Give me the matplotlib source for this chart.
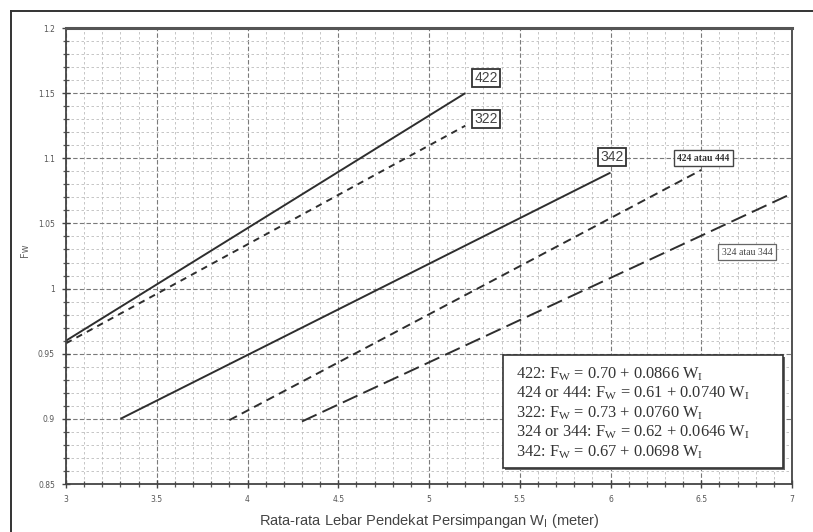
import matplotlib
matplotlib.use("Agg")
import matplotlib.pyplot as plt
from matplotlib.ticker import MultipleLocator, FixedLocator, FixedFormatter
from matplotlib.lines import Line2D
from matplotlib.patches import Rectangle

plt.rcParams['mathtext.fontset'] = 'custom'
plt.rcParams['mathtext.rm'] = 'Liberation Serif'
plt.rcParams['mathtext.it'] = 'Liberation Serif:italic'
plt.rcParams['mathtext.default'] = 'rm'

# ---- data ----
series_names = ["422", "322", "342", "424 atau 444", "324 atau 344"]
x_422 = [3.0, 5.2]
y_422 = [0.960, 1.150]
x_322 = [3.0, 5.2]
y_322 = [0.958, 1.125]
x_342 = [3.3, 6.0]
y_342 = [0.900, 1.089]
x_424 = [3.9, 6.5]
y_424 = [0.899, 1.091]
x_324 = [4.3, 7.0]
y_324 = [0.898, 1.073]

x_ticks = [3, 3.5, 4, 4.5, 5, 5.5, 6, 6.5, 7]
x_ticklabels = ["3", "3.5", "4", "4.5", "5", "5.5", "6", "6.5", "7"]
y_ticks = [0.85, 0.9, 0.95, 1.0, 1.05, 1.1, 1.15, 1.2]
y_ticklabels = ["0.85", "0.9", "0.95", "1", "1.05", "1.1", "1.15", "1.2"]

equations = [
    r"422: F$_{\mathrm{W}}$ = 0.70 + 0.0866 W$_{\mathrm{I}}$",
    r"424 or 444: F$_{\mathrm{W}}$ = 0.61 + 0.0740 W$_{\mathrm{I}}$",
    r"322: F$_{\mathrm{W}}$ = 0.73 + 0.0760 W$_{\mathrm{I}}$",
    r"324 or 344: F$_{\mathrm{W}}$ = 0.62 + 0.0646 W$_{\mathrm{I}}$",
    r"342: F$_{\mathrm{W}}$ = 0.67 + 0.0698 W$_{\mathrm{I}}$",
]

W, H = 813, 532
fig = plt.figure(figsize=(W / 100, H / 100), dpi=100)
fig.patch.set_facecolor("white")

# axes position in pixels
L, R, T, B = 66, 792, 28, 484
ax = fig.add_axes([L / W, 1 - B / H, (R - L) / W, (B - T) / H])

ax.set_xlim(3, 7)
ax.set_ylim(0.85, 1.2)

lc = "#2e2e2e"
ax.plot(x_422, y_422, color=lc, lw=1.4, solid_capstyle="butt")
ax.plot(x_322, y_322, color=lc, lw=1.4, dashes=(3.3, 2.8))
ax.plot(x_342, y_342, color=lc, lw=1.4, solid_capstyle="butt")
ax.plot(x_424, y_424, color=lc, lw=1.4, dashes=(4.4, 2.8))
ax.plot(x_324, y_324, color=lc, lw=1.4, dashes=(8.3, 3.3))

# ticks and grid
ax.xaxis.set_major_locator(FixedLocator(x_ticks))
ax.xaxis.set_major_formatter(FixedFormatter(x_ticklabels))
ax.yaxis.set_major_locator(FixedLocator(y_ticks))
ax.yaxis.set_major_formatter(FixedFormatter(y_ticklabels))
ax.xaxis.set_minor_locator(MultipleLocator(0.1))
ax.yaxis.set_minor_locator(MultipleLocator(0.01))

ax.tick_params(which="major", direction="inout", length=6, width=1.0,
               color="#444444", labelsize=5.5, labelcolor="#555555", pad=5)
ax.tick_params(which="minor", direction="inout", length=4, width=0.9,
               color="#555555")

ax.grid(which="major", color="#7a7a7a", lw=0.8, ls=(0, (4, 2)))
ax.grid(which="minor", color="#bdbdbd", lw=0.6, ls=(0, (3, 3)))
ax.set_axisbelow(True)

for s in ["left", "right", "bottom"]:
    ax.spines[s].set_color("#444444")
    ax.spines[s].set_linewidth(1.3)
ax.spines["top"].set_color("#555555")
ax.spines["top"].set_linewidth(2.2)

ax.set_xlabel(r"Rata-rata Lebar Pendekat Persimpangan W$_\mathrm{I}$ (meter)",
              fontsize=10.5, color="#444444", family="Liberation Sans",
              labelpad=6, math_fontfamily="dejavusans")
fig.text(25 / W, 1 - 250 / H, "Fw", rotation=90, fontsize=7, color="#666666",
         ha="center", va="center")

# line labels with boxes
box_kw = dict(boxstyle="square,pad=0.15", fc="white", ec="#333333", lw=1.3)
ax.text(5.314, 1.1616, "422", fontsize=10, family="Liberation Sans",
        color="#444444", ha="center", va="center", bbox=box_kw)
ax.text(5.314, 1.130, "322", fontsize=10, family="Liberation Sans",
        color="#444444", ha="center", va="center", bbox=box_kw)
ax.text(6.008, 1.101, "342", fontsize=10, family="Liberation Sans",
        color="#444444", ha="center", va="center", bbox=box_kw)
ax.text(6.51, 1.100, "424 atau 444", fontsize=7, family="Liberation Serif",
        weight="bold", color="#333333", ha="center", va="center",
        bbox=dict(boxstyle="square,pad=0.35", fc="white", ec="#444444", lw=1.0))
ax.text(6.752, 1.028, "324 atau 344", fontsize=7, family="Liberation Serif",
        color="#444444", ha="center", va="center",
        bbox=dict(boxstyle="square,pad=0.35", fc="white", ec="#666666", lw=0.9))

# equation box
bx0, bx1 = (503 - L) / (R - L), (783 - L) / (R - L)
by0, by1 = (B - 468) / (B - T), (B - 355) / (B - T)
shadow = Rectangle((bx0 + 0.003, by0 - 0.005), bx1 - bx0, by1 - by0,
                   transform=ax.transAxes, fc="#666666", ec="none", zorder=4)
ax.add_patch(shadow)
rect = Rectangle((bx0, by0), bx1 - bx0, by1 - by0, transform=ax.transAxes,
                 fc="white", ec="#333333", lw=1.2, zorder=5)
ax.add_patch(rect)
line_y = [374, 393, 413, 432, 452]
for txt, py in zip(equations, line_y):
    ax.text((516 - L) / (R - L), (B - py) / (B - T), txt, transform=ax.transAxes,
            fontsize=11.8, family="Liberation Serif", color="#333333",
            ha="left", va="center", zorder=6)

# outer frame of the scanned figure
fig.add_artist(Line2D([11 / W, 1.0], [1 - 11 / H, 1 - 11 / H],
                      transform=fig.transFigure, color="#333333", lw=1.4))
fig.add_artist(Line2D([11 / W, 11 / W], [0.0, 1 - 11 / H],
                      transform=fig.transFigure, color="#333333", lw=1.4))

fig.savefig("out.png", dpi=100, facecolor="white")
